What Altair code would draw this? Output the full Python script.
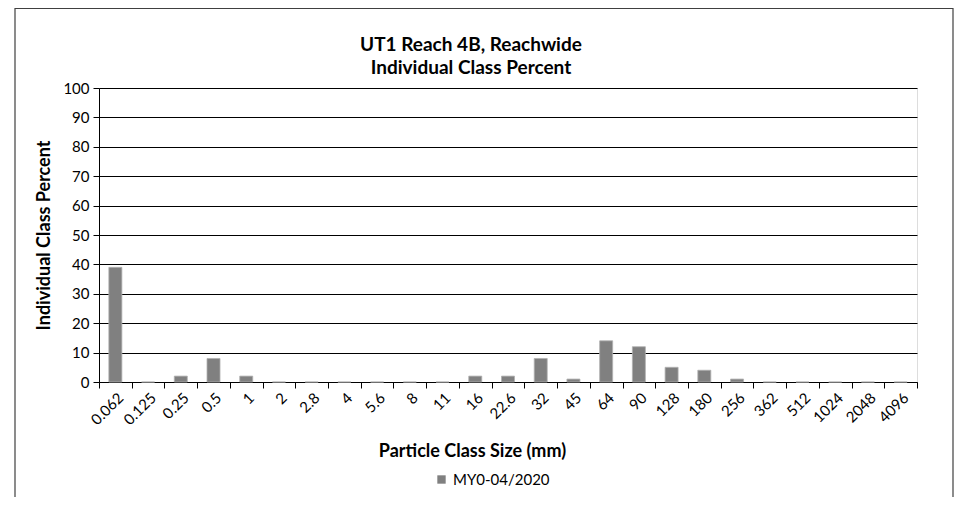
import altair as alt
import pandas as pd

sizes = ["0.062", "0.125", "0.25", "0.5", "1", "2", "2.8", "4", "5.6", "8", "11",
         "16", "22.6", "32", "45", "64", "90", "128", "180", "256", "362", "512",
         "1024", "2048", "4096"]
percent = [39, 0, 2, 8, 2, 0, 0, 0, 0, 0, 0, 2, 2, 8, 1, 14, 12, 5, 4, 1, 0, 0, 0, 0, 0]
series_name = "MY0-04/2020"
title_lines = ["UT1 Reach 4B, Reachwide", "Individual Class Percent"]

df = pd.DataFrame({"size": sizes, "pct": percent, "series": [series_name] * len(sizes)})

FONT = "Lato"
W, H = 818, 294

frame = alt.Chart(pd.DataFrame({"a": [0]})).mark_rect(
    fill=None, stroke="#404040", strokeWidth=1.2, clip=False
).encode(
    x=alt.value(-84), x2=alt.value(854), y=alt.value(-79.5), y2=alt.value(520)
)

title1 = alt.Chart(pd.DataFrame({"t": [title_lines[0]]})).mark_text(
    font=FONT, fontSize=19, fontWeight="bold", color="#000",
    align="center", baseline="middle", clip=False
).encode(text="t:N", x=alt.value(372), y=alt.value(-43))

title2 = alt.Chart(pd.DataFrame({"t": [title_lines[1]]})).mark_text(
    font=FONT, fontSize=19, fontWeight="bold", color="#000",
    align="center", baseline="middle", clip=False
).encode(text="t:N", x=alt.value(372), y=alt.value(-20))

bars = alt.Chart(df).mark_bar(size=13, stroke="#b0b0b0", strokeWidth=0.8).encode(
    x=alt.X("size:N", sort=sizes,
            scale=alt.Scale(paddingInner=0, paddingOuter=0),
            axis=alt.Axis(title="Particle Class Size (mm)", labelAngle=-45,
                          labelAlign="right", labelBaseline="top",
                          labelPadding=2, labelFontSize=15, labelColor="#000",
                          labelFont=FONT, titleFont=FONT,
                          tickBand="extent", tickSize=6, tickColor="#000",
                          domainColor="#000",
                          titleFontSize=18, titleFontWeight="bold", titleColor="#000",
                          titleX=373, titleY=69, titleBaseline="middle",
                          titleAnchor="middle", titleAlign="center")),
    y=alt.Y("pct:Q", scale=alt.Scale(domain=[0, 100]),
            axis=alt.Axis(title="Individual Class Percent", values=list(range(0, 101, 10)),
                          tickSize=6, tickColor="#000", domainColor="#000",
                          labelFont=FONT, titleFont=FONT,
                          gridColor="#000", gridWidth=1, labelFontSize=15,
                          labelColor="#000", labelPadding=4,
                          titleFontSize=18, titleFontWeight="bold", titleColor="#000",
                          titlePadding=9)),
    color=alt.Color("series:N", scale=alt.Scale(range=["#808080"]),
                    legend=alt.Legend(title=None, orient="none", legendX=335, legendY=384,
                                      symbolType="square", symbolSize=70,
                                      symbolStrokeWidth=0, labelFontSize=15,
                                      labelColor="#000", labelFont=FONT)),
)

chart = alt.layer(frame, bars, title1, title2).properties(
    width=W, height=H,
    autosize=alt.AutoSizeParams(type="none"),
    padding={"left": 91, "top": 80, "right": 37, "bottom": 115},
).configure_view(stroke="#000", strokeWidth=1).configure(
    background="white", font=FONT
)

chart.save("out.html", embed_options={"renderer": "svg", "actions": False})
